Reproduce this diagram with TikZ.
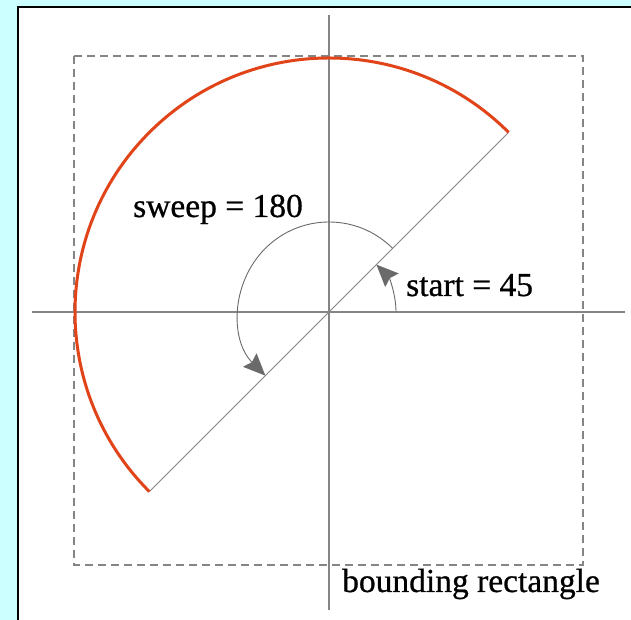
\documentclass[tikz,border=0pt]{standalone}
\usepackage{fontspec}
\setmainfont{Liberation Serif}
\newfontfamily\lblfont[FakeBold=0.7]{Liberation Serif}
\usetikzlibrary{arrows.meta,calc}
\definecolor{bgcyan}{HTML}{CCFFFF}
\definecolor{arcred}{HTML}{E04418}
\definecolor{axisgray}{HTML}{858585}
\definecolor{arrowgray}{HTML}{6A6A6A}
\tikzset{
  axis/.style={draw=axisgray,line width=1.4pt},
  diag/.style={draw=axisgray,line width=0.9pt},
  boundrect/.style={draw=axisgray,line width=1.3pt,dash pattern=on 8pt off 5pt},
  redarc/.style={draw=arcred,line width=3pt},
  anglearc/.style={draw=arrowgray,line width=0.9pt,-{Stealth[length=22pt,width=19pt,inset=3pt,line width=1pt]}},
  lbl/.style={font=\lblfont\fontsize{33.5}{38}\selectfont,inner sep=0pt,anchor=base west}
}
\begin{document}
\begin{tikzpicture}[x=1pt,y=1pt]
\useasboundingbox (0,0) rectangle (631,620);
\fill[bgcyan] (0,0) rectangle (631,620);
\fill[white] (17,0) rectangle (631,614);
\draw[black,line width=2pt] (18,0) -- (18,613) -- (631,613);
\coordinate (O) at (329,308);
\coordinate (ax1) at (32,308);
\coordinate (ax2) at (625,308);
\coordinate (ay1) at (329,605);
\coordinate (ay2) at (329,10);
\coordinate (r1) at (74,564);
\coordinate (r2) at (583,55);
\draw[boundrect] (r1) rectangle (r2);
\draw[axis] (ax1) -- (ax2);
\draw[axis] (ay1) -- (ay2);
\coordinate (d1) at ($(O)+(225:254)$);
\coordinate (d2) at ($(O)+(45:254)$);
\draw[diag] (d1) -- (d2);
\draw[redarc] (d2) arc[start angle=45,end angle=225,radius=254];
\draw[anglearc] ($(O)+(45:90)$) arc[start angle=45,end angle=225,radius=90];
\draw[anglearc] ($(O)+(0:67)$) arc[start angle=0,end angle=45,radius=67];
\node[lbl] (sweep) at (133,403) {sweep = 180};
\node[lbl] (start) at (406,324) {start = 45};
\node[lbl] (bound) at (342,28) {bounding rectangle};
\end{tikzpicture}
\end{document}
